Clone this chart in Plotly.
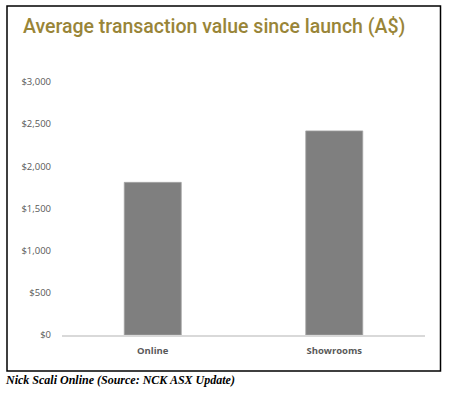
import plotly.graph_objects as go

categories = ["Online", "Showrooms"]
values = [1810, 2420]
tick_vals = [0, 500, 1000, 1500, 2000, 2500, 3000]
tick_text = ["$0", "$500", "$1,000", "$1,500", "$2,000", "$2,500", "$3,000"]
title_text = "Average transaction value since launch (A$)"
caption_text = "Nick Scali Online (Source: NCK ASX Update)"

W, H = 454, 393
L, R, T, B = 62, 29, 82, 58
pw, ph = W - L - R, H - T - B


def px(x):
    return (x - L) / pw


def py(y):
    return (H - B - y) / ph


fig = go.Figure()
fig.add_trace(go.Bar(
    x=categories, y=values, width=0.314,
    marker=dict(color="#7f7f7f", line=dict(color="#a5a5a5", width=0.8)),
))

fig.update_layout(
    width=W, height=H,
    margin=dict(l=L, r=R, t=T, b=B, pad=0),
    paper_bgcolor="white", plot_bgcolor="white",
    showlegend=False,
    font=dict(family="Open Sans", color="#595959"),
    xaxis=dict(
        showgrid=False, zeroline=False, showline=True,
        linecolor="#d9d9d9", linewidth=1.5,
        tickfont=dict(family="Open Sans", size=9.5, color="#595959", weight="bold"),
        ticks="", ticklabelstandoff=6,
    ),
    yaxis=dict(
        range=[0, 3000], showgrid=False, zeroline=False, showline=False,
        tickvals=tick_vals, ticktext=tick_text,
        tickfont=dict(family="Open Sans", size=9.5, color="#595959"),
        ticks="", ticklabelstandoff=10,
    ),
    shapes=[dict(
        type="rect", xref="paper", yref="paper",
        x0=px(7), x1=px(440.5), y0=py(371), y1=py(6),
        line=dict(color="black", width=1.5), fillcolor="rgba(0,0,0,0)",
    )],
    annotations=[
        dict(text=title_text, xref="paper", yref="paper",
             x=px(21), y=py(27), xanchor="left", yanchor="middle",
             showarrow=False,
             font=dict(family="Roboto", size=19.5, color="#998538", weight=500)),
        dict(text="<i>" + caption_text + "</i>", xref="paper", yref="paper",
             x=px(3), y=py(380), xanchor="left", yanchor="middle",
             showarrow=False,
             font=dict(family="Liberation Serif", size=12, color="black", weight="bold")),
    ],
)

fig.write_html(
    "out.html",
    config={"displayModeBar": False},
    post_script="document.body.style.margin='0';document.body.style.overflow='hidden';",
)
